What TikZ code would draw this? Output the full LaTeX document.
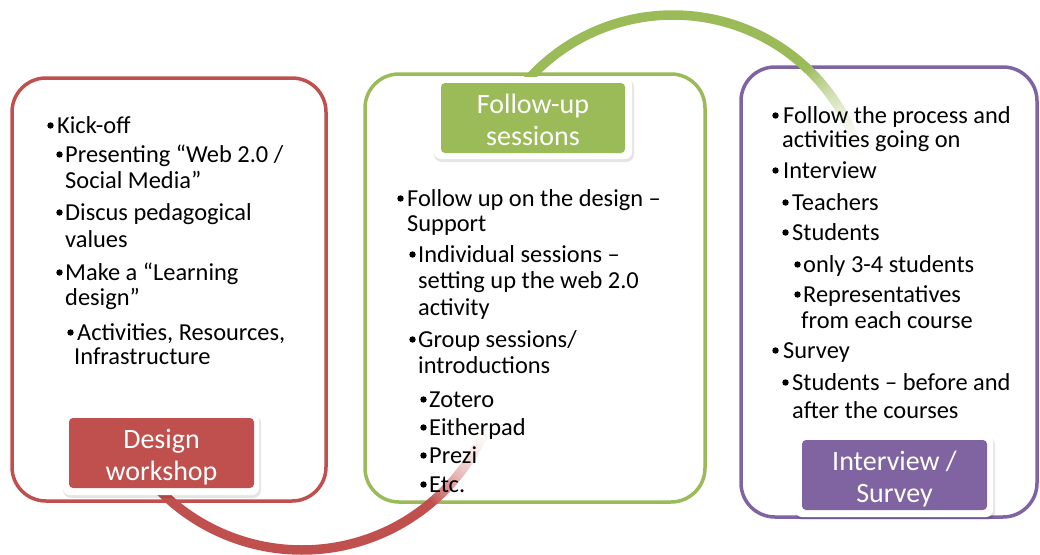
\documentclass[tikz,border=0pt]{standalone}
\usepackage{fontspec}
\setmainfont{Carlito}
\definecolor{cred}{HTML}{C0504D}
\definecolor{cgreen}{HTML}{9BBB59}
\definecolor{cpurple}{HTML}{8064A2}
% #1 name, #2 bullet x, #3 gap to text, #4 baseline y, #5 text
\newcommand\bitem[5]{%
  \fill[black] ({#2+4.5},{#4-7.5}) circle (3.2);
  \node[item] (#1) at ({#2+#3},#4) {#5};}
\begin{document}
\begin{tikzpicture}[x=1pt,y=-1pt,
  frame/.style={line width=3.5pt, rounded corners=34pt, fill=white},
  item/.style={anchor=base west, inner sep=0pt, font=\fontsize{24.4}{26}\selectfont},
  lbl/.style={anchor=base, inner sep=0pt, text=white, font=\fontsize{28}{32}\selectfont},
  lblshadow/.style={fill=black, opacity=0.10, rounded corners=8pt},
  lblouter/.style={fill=white, rounded corners=7pt},
  lblinner/.style={rounded corners=4pt},
  arcline/.style={line width=9.5pt, line cap=butt},
]
\useasboundingbox (0,0) rectangle (1040,554);

% frames
\draw[frame, draw=cred] (12,78) rectangle (326,501);
\draw[frame, draw=cgreen] (365,74) rectangle (705,502);
\draw[frame, draw=cpurple] (741,67) rectangle (1037,517);

% red arc
\draw[arcline, cred, domain=50:138, samples=80, variable=\t]
  plot ({302+200*cos(\t)}, {350+200*sin(\t)});
\foreach \i in {0,...,29}{
  \pgfmathsetmacro\ta{50-\i+0.2}
  \pgfmathsetmacro\tb{49-\i}
  \pgfmathsetmacro\p{100*(1-\i/30)^2}
  \draw[arcline, color=cred!\p!white, domain=\tb:\ta, samples=4, variable=\t]
    plot ({302+200*cos(\t)}, {350+200*sin(\t)});
}
% green arc
\draw[arcline, cgreen, domain=220:313, samples=80, variable=\t]
  plot ({673+195*cos(\t)}, {210+195*sin(\t)});
\foreach \i in {0,...,32}{
  \pgfmathsetmacro\ta{313+\i-0.2}
  \pgfmathsetmacro\tb{314+\i}
  \pgfmathsetmacro\p{100*(1-\i/33)^2}
  \draw[arcline, color=cgreen!\p!white, domain=\ta:\tb, samples=4, variable=\t]
    plot ({673+195*cos(\t)}, {210+195*sin(\t)});
}

% red box texts
\bitem{r1}{46}{11}{133}{Kick-off}
\bitem{r2}{55}{10}{162}{Presenting “Web 2.0 /}
\node[item] (r3) at (65,188) {Social Media”};
\bitem{r4}{55}{10}{220}{Discus pedagogical}
\node[item] (r5) at (65,247) {values};
\bitem{r6}{55}{10}{280}{Make a “Learning}
\node[item] (r7) at (65,305) {design”};
\bitem{r8}{66}{11}{340}{Activities, Resources,}
\node[item] (r9) at (74,364) {Infrastructure};

% green box texts
\bitem{g1}{396}{11}{206}{Follow up on the design –}
\node[item] (g2) at (407,231) {Support};
\bitem{g3}{408}{10}{262}{Individual sessions –}
\node[item] (g4) at (418,288) {setting up the web 2.0};
\node[item] (g5) at (418,315) {activity};
\bitem{g6}{408}{10}{347}{Group sessions/}
\node[item] (g7) at (418,373) {introductions};
\bitem{g8}{419}{10}{407}{Zotero}
\bitem{g9}{419}{10}{435}{Eitherpad}
\bitem{g10}{419}{10}{463}{Prezi}
\bitem{g11}{419}{10}{492}{Etc.}

% purple box texts
\bitem{p1}{771}{12}{123}{Follow the process and}
\node[item] (p2) at (782,147) {activities going on};
\bitem{p3}{771}{12}{178}{Interview}
\bitem{p4}{781}{11}{210}{Teachers}
\bitem{p5}{781}{11}{240}{Students}
\bitem{p6}{793}{10}{272}{only 3-4 students}
\bitem{p7}{793}{10}{302}{Representatives}
\node[item] (p8) at (801,328) {from each course};
\bitem{p9}{771}{12}{358}{Survey}
\bitem{p10}{781}{11}{390}{Students – before and}
\node[item] (p11) at (792,418) {after the courses};

% labels
\fill[lblshadow] (63,415) rectangle (261,498);
\fill[lblouter] (63,413) rectangle (259,495);
\fill[lblinner, cred] (69,418) rectangle (254,488);
\node[lbl] (l1a) at (161.5,448) {Design};
\node[lbl] (l1b) at (161.5,480) {workshop};

\fill[lblshadow] (434,79) rectangle (634,162);
\fill[lblouter] (434,77) rectangle (632,159);
\fill[lblinner, cgreen] (441,83) rectangle (625,153);
\node[lbl] (l2a) at (533,113) {Follow-up};
\node[lbl] (l2b) at (533,145) {sessions};

\fill[lblshadow] (795,437) rectangle (995,520);
\fill[lblouter] (795,435) rectangle (993,517);
\fill[lblinner, cpurple] (802,440) rectangle (987,510);
\node[lbl] (l3a) at (894.5,470) {Interview /};
\node[lbl] (l3b) at (894.5,502) {Survey};
\end{tikzpicture}
\end{document}
